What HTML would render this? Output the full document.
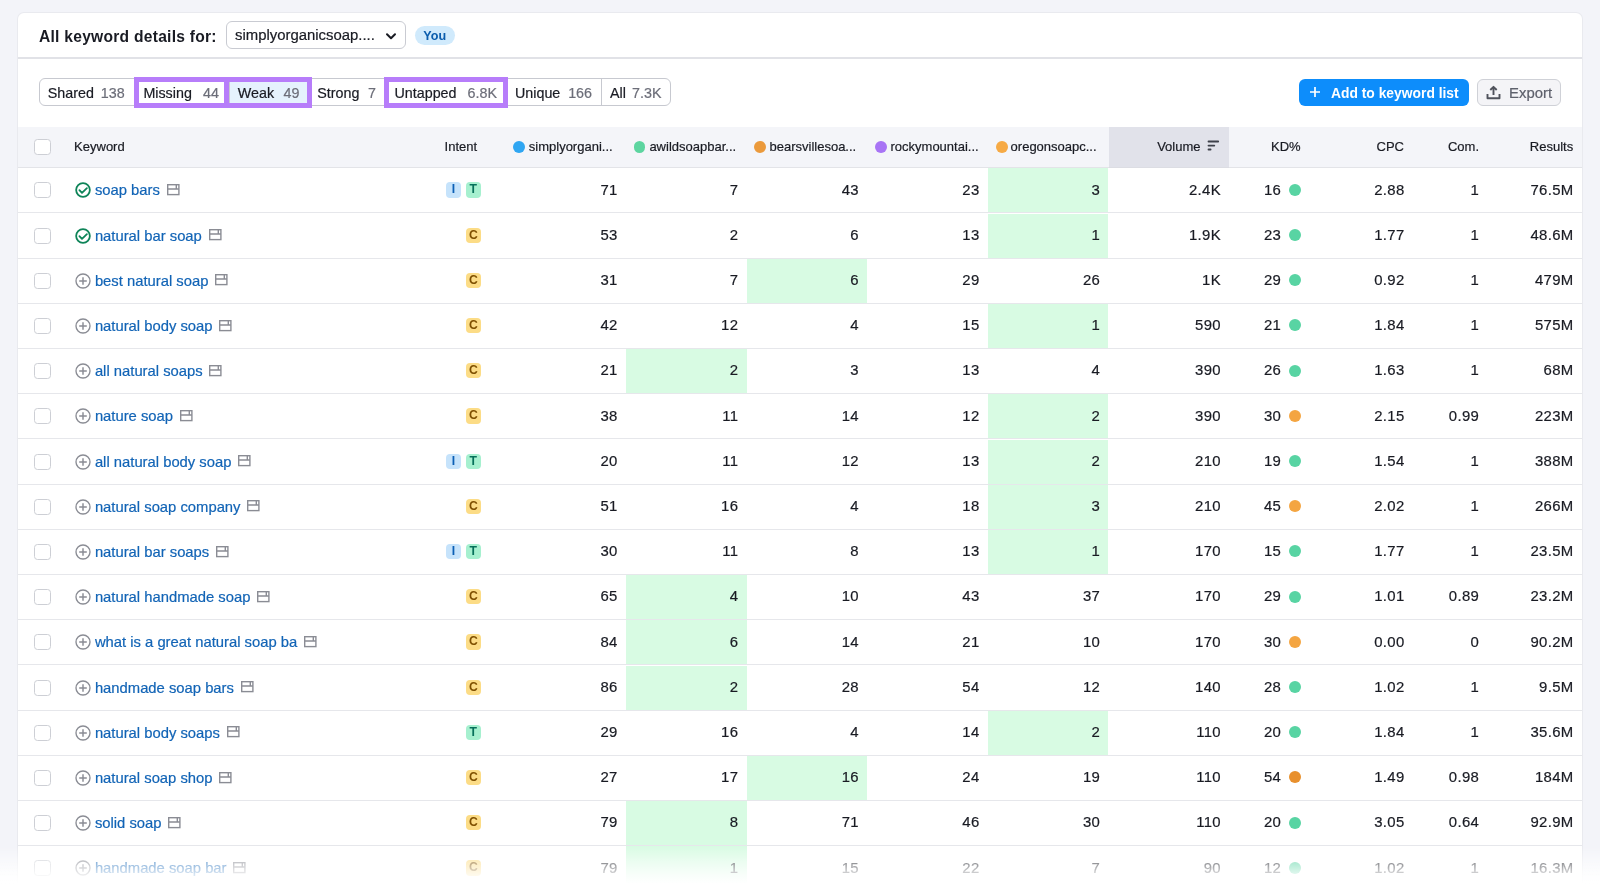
<!DOCTYPE html>
<html><head><meta charset="utf-8">
<style>
*{box-sizing:border-box;margin:0;padding:0}
html,body{width:1600px;height:884px;overflow:hidden}
body{position:relative;background:#f3f4f9;font-family:"Liberation Sans",sans-serif;color:#191b23}
.abs{position:absolute}
.card{position:absolute;left:18px;top:13px;width:1564px;height:900px;background:#fff;border-radius:6px;box-shadow:0 0 0 1px #e9eaef}
.title{position:absolute;left:39px;top:27px;font-size:15.6px;font-weight:700;line-height:20px;white-space:nowrap;letter-spacing:0.26px}
.dd{position:absolute;left:226px;top:21.4px;width:180px;height:27.5px;border:1px solid #c9cbd2;border-radius:6px}
.ddt{position:absolute;left:235px;top:26px;font-size:14.9px;line-height:18px;white-space:nowrap;color:#191b23}
.you{position:absolute;left:415px;top:25.8px;width:39.5px;height:19.5px;border-radius:10px;background:#d0eafc;color:#0b5dad;font-size:12.6px;font-weight:700;line-height:20px;text-align:center}
.sep{position:absolute;left:18px;top:57px;width:1564px;height:1.6px;background:#e1e2e7}
.tabs{position:absolute;left:39px;top:78.4px;width:632px;height:27.8px;border:1px solid #c7c9d0;border-radius:6px;overflow:hidden}
.tsel{position:absolute;left:229px;top:79px;width:80px;height:27px;background:#e5f2fd}
.tdiv{position:absolute;top:79px;width:1px;height:27px;background:#c7c9d0}
.tl{position:absolute;top:83.5px;font-size:14.3px;line-height:18px;white-space:nowrap;color:#191b23}
.tc{position:absolute;top:83.5px;font-size:14.3px;line-height:18px;white-space:nowrap;color:#6c6e79}
.pbox{position:absolute;top:77px;height:30.5px;border:5px solid #b77dfa}
.btn{position:absolute;left:1299px;top:78.8px;width:169.6px;height:27.5px;border-radius:6px;background:#0d8dfb}
.btnt{position:absolute;left:1331px;top:83.5px;font-size:13.85px;font-weight:700;line-height:18px;color:#fff;white-space:nowrap}
.exp{position:absolute;left:1477px;top:78.8px;width:84px;height:27.5px;border-radius:6px;background:#f4f4f7;border:1px solid #cfd1d7}
.expt{position:absolute;left:1509px;top:83.5px;font-size:14.9px;line-height:18px;color:#5e616c;white-space:nowrap}
.th{position:absolute;left:18px;top:126.5px;width:1564px;height:41.8px;background:#f4f5f9;border-bottom:1px solid #e3e4e8}
.thvol{position:absolute;left:1108.5px;top:126.5px;width:120px;height:41.8px;background:#e1e2ea;border-bottom:1px solid #dcdde3}
.hl_{position:absolute;top:137.8px;font-size:13px;line-height:17px;white-space:nowrap;color:#191b23}
.hr_{position:absolute;top:137.8px;font-size:13px;line-height:17px;white-space:nowrap;color:#191b23;text-align:right}
.hdot{position:absolute;top:141.1px;width:11.8px;height:11.8px;border-radius:50%}
.hcb{position:absolute;left:34.4px;top:139.2px;width:16.4px;height:16px;border:1px solid #cdcfd5;border-radius:3.5px;background:#fff}
.row{position:absolute;left:18px;width:1564px;height:45.2px;border-bottom:1px solid #e6e7eb}
.hl{position:absolute;top:0;height:44.2px;background:#d8fbe3}
.cb{position:absolute;left:16.4px;top:14px;width:16.4px;height:16px;border:1px solid #cdcfd5;border-radius:3.5px;background:#fff}
.kw{position:absolute;left:56.9px;top:12px;height:20px;white-space:nowrap;display:flex;align-items:center}
.kw .ic{flex:none}
.kwt{font-size:14.8px;color:#1264b6;margin-left:4px;line-height:20px}
.kw .sp{margin-left:6.8px;margin-top:-0.4px}
.intent{position:absolute;right:1101px;top:14px;display:flex;gap:4.6px}
.bd{display:block;width:15.4px;height:15.4px;border-radius:4px;font-size:12.2px;font-weight:700;line-height:15.6px;text-align:center}
.bI{background:#c6e3fb;color:#0b5fb5}
.bT{background:#a6f0cf;color:#06705a}
.bC{background:#fcdc86;color:#7e4f00}
.num{position:absolute;top:11.3px;font-size:14.9px;letter-spacing:0.35px;margin-right:-0.35px;line-height:20px;white-space:nowrap;color:#191b23;text-align:right}
.dot{position:absolute;left:1271.3px;top:15.6px;width:11.9px;height:11.9px;border-radius:50%}
.dg{background:#58d4a3}
.do{background:#f4a541}
.do2{background:#e8902d}
.fade{position:absolute;left:0;top:846px;width:1600px;height:38px;background:linear-gradient(to bottom,rgba(255,255,255,0) 0%,rgba(255,255,255,0.5) 42%,rgba(255,255,255,0.82) 74%,rgba(255,255,255,1) 100%)}
.wrap{position:absolute;left:0;top:0;width:1600px;height:884px;will-change:transform}
.kwt,.num,.tl,.tc,.hl_,.hr_,.ddt,.expt{-webkit-text-stroke:0.2px currentColor}
</style></head><body><div class="wrap">
<div class="card"></div>
<div class="title">All keyword details for:</div>
<div class="dd"></div>
<div class="ddt">simplyorganicsoap....</div>
<svg class="abs" style="left:384.7px;top:32.2px" width="12" height="9" viewBox="0 0 12 9"><path d="M2 2.2 L6 6.2 L10 2.2" fill="none" stroke="#191b23" stroke-width="2" stroke-linecap="round" stroke-linejoin="round"/></svg>
<div class="you">You</div>
<div class="sep"></div>

<div class="tabs"></div>
<div class="tsel"></div>
<div class="tdiv" style="left:134px"></div>
<div class="tdiv" style="left:229px"></div>
<div class="tdiv" style="left:308.4px"></div>
<div class="tdiv" style="left:385.5px"></div>
<div class="tdiv" style="left:506px"></div>
<div class="tdiv" style="left:601px"></div>
<div class="tl" style="left:47.8px">Shared</div><div class="tc" style="right:1475.3px">138</div>
<div class="tl" style="left:143.4px">Missing</div><div class="tc" style="right:1381px">44</div>
<div class="tl" style="left:237.8px">Weak</div><div class="tc" style="right:1300.6px">49</div>
<div class="tl" style="left:317.3px">Strong</div><div class="tc" style="right:1224px">7</div>
<div class="tl" style="left:394.5px">Untapped</div><div class="tc" style="right:1103px">6.8K</div>
<div class="tl" style="left:515px">Unique</div><div class="tc" style="right:1008px">166</div>
<div class="tl" style="left:610px">All</div><div class="tc" style="right:938.5px">7.3K</div>
<div class="pbox" style="left:134px;width:178px"></div>
<div class="abs" style="left:224px;top:77px;width:4.8px;height:30.5px;background:#b77dfa"></div>
<div class="pbox" style="left:383.8px;width:124.5px"></div>

<div class="btn"></div>
<svg class="abs" style="left:1309px;top:86px" width="12" height="12" viewBox="0 0 12 12"><path d="M6 1 V11 M1 6 H11" stroke="#fff" stroke-width="1.7" fill="none"/></svg>
<div class="btnt">Add to keyword list</div>
<div class="exp"></div>
<svg class="abs" style="left:1485.5px;top:85px" width="15" height="15" viewBox="0 0 15 15"><path d="M7.5 10 V2 M4.3 5 L7.5 1.8 L10.7 5 M1.5 9 V13.2 H13.5 V9" fill="none" stroke="#50535c" stroke-width="1.9" stroke-linejoin="round"/></svg>
<div class="expt">Export</div>

<div class="th"></div>
<div class="thvol"></div>
<div class="hcb"></div>
<div class="hl_" style="left:74.1px">Keyword</div>
<div class="hl_" style="left:444.6px">Intent</div>
<div class="hdot" style="left:513.4px;background:#2fa6f2"></div><div class="hl_" style="left:528.8px">simplyorgani...</div>
<div class="hdot" style="left:633.7px;background:#5dd5a0"></div><div class="hl_" style="left:649.4px">awildsoapbar...</div>
<div class="hdot" style="left:753.9px;background:#eb9a3c"></div><div class="hl_" style="left:769.5px">bearsvillesoa...</div>
<div class="hdot" style="left:875.2px;background:#a874f5"></div><div class="hl_" style="left:890.5px">rockymountai...</div>
<div class="hdot" style="left:996px;background:#f6aa45"></div><div class="hl_" style="left:1010.6px">oregonsoapc...</div>
<div class="hr_" style="right:399.5px">Volume</div>
<svg class="abs" style="left:1206.5px;top:140px" width="13" height="12" viewBox="0 0 13 12"><path d="M1.5 1.5 H11.2 M1.5 5.6 H7.3 M1.5 9.5 H3.6" stroke="#3e414a" stroke-width="1.8" stroke-linecap="round" fill="none"/></svg>
<div class="hr_" style="right:299.4px">KD%</div>
<div class="hr_" style="right:196px">CPC</div>
<div class="hr_" style="right:121px">Com.</div>
<div class="hr_" style="right:26.8px">Results</div>

<div class="row" style="top:168.30px"><div class="hl" style="left:969.8px;width:120.6px"></div><div class="cb"></div><div class="kw"><svg class="ic" width="16" height="16" viewBox="0 0 16 16"><circle cx="8" cy="8" r="6.85" fill="none" stroke="#0e8458" stroke-width="1.8"/><path d="M4.4 8.1 L7.0 10.9 L11.9 6.2" fill="none" stroke="#0e8458" stroke-width="1.8" stroke-linecap="round" stroke-linejoin="round"/></svg><span class="kwt">soap bars</span><svg class="sp" width="13" height="12" viewBox="0 0 13 12"><rect x="0.7" y="0.7" width="11.2" height="9.9" fill="none" stroke="#8a8c94" stroke-width="1.4"/><path d="M0.7 5 H11.9 M9.3 0.7 V5" fill="none" stroke="#8a8c94" stroke-width="1.4"/></svg></div><div class="intent"><span class="bd bI">I</span><span class="bd bT">T</span></div><div class="num" style="right:964.6px">71</div><div class="num" style="right:844.0px">7</div><div class="num" style="right:723.4px">43</div><div class="num" style="right:602.8px">23</div><div class="num" style="right:482.2px">3</div><div class="num" style="right:361.4px">2.4K</div><div class="num" style="right:301.2px">16</div><span class="dot dg"></span><div class="num" style="right:177.8px">2.88</div><div class="num" style="right:103.2px">1</div><div class="num" style="right:8.8px">76.5M</div></div>
<div class="row" style="top:213.50px"><div class="hl" style="left:969.8px;width:120.6px"></div><div class="cb"></div><div class="kw"><svg class="ic" width="16" height="16" viewBox="0 0 16 16"><circle cx="8" cy="8" r="6.85" fill="none" stroke="#0e8458" stroke-width="1.8"/><path d="M4.4 8.1 L7.0 10.9 L11.9 6.2" fill="none" stroke="#0e8458" stroke-width="1.8" stroke-linecap="round" stroke-linejoin="round"/></svg><span class="kwt">natural bar soap</span><svg class="sp" width="13" height="12" viewBox="0 0 13 12"><rect x="0.7" y="0.7" width="11.2" height="9.9" fill="none" stroke="#8a8c94" stroke-width="1.4"/><path d="M0.7 5 H11.9 M9.3 0.7 V5" fill="none" stroke="#8a8c94" stroke-width="1.4"/></svg></div><div class="intent"><span class="bd bC">C</span></div><div class="num" style="right:964.6px">53</div><div class="num" style="right:844.0px">2</div><div class="num" style="right:723.4px">6</div><div class="num" style="right:602.8px">13</div><div class="num" style="right:482.2px">1</div><div class="num" style="right:361.4px">1.9K</div><div class="num" style="right:301.2px">23</div><span class="dot dg"></span><div class="num" style="right:177.8px">1.77</div><div class="num" style="right:103.2px">1</div><div class="num" style="right:8.8px">48.6M</div></div>
<div class="row" style="top:258.70px"><div class="hl" style="left:728.6px;width:120.6px"></div><div class="cb"></div><div class="kw"><svg class="ic" width="16" height="16" viewBox="0 0 16 16"><circle cx="8" cy="8" r="7.0" fill="none" stroke="#8a8c94" stroke-width="1.35"/><path d="M8 4.2 V11.8 M4.2 8 H11.8" fill="none" stroke="#8a8c94" stroke-width="1.45"/></svg><span class="kwt">best natural soap</span><svg class="sp" width="13" height="12" viewBox="0 0 13 12"><rect x="0.7" y="0.7" width="11.2" height="9.9" fill="none" stroke="#8a8c94" stroke-width="1.4"/><path d="M0.7 5 H11.9 M9.3 0.7 V5" fill="none" stroke="#8a8c94" stroke-width="1.4"/></svg></div><div class="intent"><span class="bd bC">C</span></div><div class="num" style="right:964.6px">31</div><div class="num" style="right:844.0px">7</div><div class="num" style="right:723.4px">6</div><div class="num" style="right:602.8px">29</div><div class="num" style="right:482.2px">26</div><div class="num" style="right:361.4px">1K</div><div class="num" style="right:301.2px">29</div><span class="dot dg"></span><div class="num" style="right:177.8px">0.92</div><div class="num" style="right:103.2px">1</div><div class="num" style="right:8.8px">479M</div></div>
<div class="row" style="top:303.90px"><div class="hl" style="left:969.8px;width:120.6px"></div><div class="cb"></div><div class="kw"><svg class="ic" width="16" height="16" viewBox="0 0 16 16"><circle cx="8" cy="8" r="7.0" fill="none" stroke="#8a8c94" stroke-width="1.35"/><path d="M8 4.2 V11.8 M4.2 8 H11.8" fill="none" stroke="#8a8c94" stroke-width="1.45"/></svg><span class="kwt">natural body soap</span><svg class="sp" width="13" height="12" viewBox="0 0 13 12"><rect x="0.7" y="0.7" width="11.2" height="9.9" fill="none" stroke="#8a8c94" stroke-width="1.4"/><path d="M0.7 5 H11.9 M9.3 0.7 V5" fill="none" stroke="#8a8c94" stroke-width="1.4"/></svg></div><div class="intent"><span class="bd bC">C</span></div><div class="num" style="right:964.6px">42</div><div class="num" style="right:844.0px">12</div><div class="num" style="right:723.4px">4</div><div class="num" style="right:602.8px">15</div><div class="num" style="right:482.2px">1</div><div class="num" style="right:361.4px">590</div><div class="num" style="right:301.2px">21</div><span class="dot dg"></span><div class="num" style="right:177.8px">1.84</div><div class="num" style="right:103.2px">1</div><div class="num" style="right:8.8px">575M</div></div>
<div class="row" style="top:349.10px"><div class="hl" style="left:608.0px;width:120.6px"></div><div class="cb"></div><div class="kw"><svg class="ic" width="16" height="16" viewBox="0 0 16 16"><circle cx="8" cy="8" r="7.0" fill="none" stroke="#8a8c94" stroke-width="1.35"/><path d="M8 4.2 V11.8 M4.2 8 H11.8" fill="none" stroke="#8a8c94" stroke-width="1.45"/></svg><span class="kwt">all natural soaps</span><svg class="sp" width="13" height="12" viewBox="0 0 13 12"><rect x="0.7" y="0.7" width="11.2" height="9.9" fill="none" stroke="#8a8c94" stroke-width="1.4"/><path d="M0.7 5 H11.9 M9.3 0.7 V5" fill="none" stroke="#8a8c94" stroke-width="1.4"/></svg></div><div class="intent"><span class="bd bC">C</span></div><div class="num" style="right:964.6px">21</div><div class="num" style="right:844.0px">2</div><div class="num" style="right:723.4px">3</div><div class="num" style="right:602.8px">13</div><div class="num" style="right:482.2px">4</div><div class="num" style="right:361.4px">390</div><div class="num" style="right:301.2px">26</div><span class="dot dg"></span><div class="num" style="right:177.8px">1.63</div><div class="num" style="right:103.2px">1</div><div class="num" style="right:8.8px">68M</div></div>
<div class="row" style="top:394.30px"><div class="hl" style="left:969.8px;width:120.6px"></div><div class="cb"></div><div class="kw"><svg class="ic" width="16" height="16" viewBox="0 0 16 16"><circle cx="8" cy="8" r="7.0" fill="none" stroke="#8a8c94" stroke-width="1.35"/><path d="M8 4.2 V11.8 M4.2 8 H11.8" fill="none" stroke="#8a8c94" stroke-width="1.45"/></svg><span class="kwt">nature soap</span><svg class="sp" width="13" height="12" viewBox="0 0 13 12"><rect x="0.7" y="0.7" width="11.2" height="9.9" fill="none" stroke="#8a8c94" stroke-width="1.4"/><path d="M0.7 5 H11.9 M9.3 0.7 V5" fill="none" stroke="#8a8c94" stroke-width="1.4"/></svg></div><div class="intent"><span class="bd bC">C</span></div><div class="num" style="right:964.6px">38</div><div class="num" style="right:844.0px">11</div><div class="num" style="right:723.4px">14</div><div class="num" style="right:602.8px">12</div><div class="num" style="right:482.2px">2</div><div class="num" style="right:361.4px">390</div><div class="num" style="right:301.2px">30</div><span class="dot do"></span><div class="num" style="right:177.8px">2.15</div><div class="num" style="right:103.2px">0.99</div><div class="num" style="right:8.8px">223M</div></div>
<div class="row" style="top:439.50px"><div class="hl" style="left:969.8px;width:120.6px"></div><div class="cb"></div><div class="kw"><svg class="ic" width="16" height="16" viewBox="0 0 16 16"><circle cx="8" cy="8" r="7.0" fill="none" stroke="#8a8c94" stroke-width="1.35"/><path d="M8 4.2 V11.8 M4.2 8 H11.8" fill="none" stroke="#8a8c94" stroke-width="1.45"/></svg><span class="kwt">all natural body soap</span><svg class="sp" width="13" height="12" viewBox="0 0 13 12"><rect x="0.7" y="0.7" width="11.2" height="9.9" fill="none" stroke="#8a8c94" stroke-width="1.4"/><path d="M0.7 5 H11.9 M9.3 0.7 V5" fill="none" stroke="#8a8c94" stroke-width="1.4"/></svg></div><div class="intent"><span class="bd bI">I</span><span class="bd bT">T</span></div><div class="num" style="right:964.6px">20</div><div class="num" style="right:844.0px">11</div><div class="num" style="right:723.4px">12</div><div class="num" style="right:602.8px">13</div><div class="num" style="right:482.2px">2</div><div class="num" style="right:361.4px">210</div><div class="num" style="right:301.2px">19</div><span class="dot dg"></span><div class="num" style="right:177.8px">1.54</div><div class="num" style="right:103.2px">1</div><div class="num" style="right:8.8px">388M</div></div>
<div class="row" style="top:484.70px"><div class="hl" style="left:969.8px;width:120.6px"></div><div class="cb"></div><div class="kw"><svg class="ic" width="16" height="16" viewBox="0 0 16 16"><circle cx="8" cy="8" r="7.0" fill="none" stroke="#8a8c94" stroke-width="1.35"/><path d="M8 4.2 V11.8 M4.2 8 H11.8" fill="none" stroke="#8a8c94" stroke-width="1.45"/></svg><span class="kwt">natural soap company</span><svg class="sp" width="13" height="12" viewBox="0 0 13 12"><rect x="0.7" y="0.7" width="11.2" height="9.9" fill="none" stroke="#8a8c94" stroke-width="1.4"/><path d="M0.7 5 H11.9 M9.3 0.7 V5" fill="none" stroke="#8a8c94" stroke-width="1.4"/></svg></div><div class="intent"><span class="bd bC">C</span></div><div class="num" style="right:964.6px">51</div><div class="num" style="right:844.0px">16</div><div class="num" style="right:723.4px">4</div><div class="num" style="right:602.8px">18</div><div class="num" style="right:482.2px">3</div><div class="num" style="right:361.4px">210</div><div class="num" style="right:301.2px">45</div><span class="dot do"></span><div class="num" style="right:177.8px">2.02</div><div class="num" style="right:103.2px">1</div><div class="num" style="right:8.8px">266M</div></div>
<div class="row" style="top:529.90px"><div class="hl" style="left:969.8px;width:120.6px"></div><div class="cb"></div><div class="kw"><svg class="ic" width="16" height="16" viewBox="0 0 16 16"><circle cx="8" cy="8" r="7.0" fill="none" stroke="#8a8c94" stroke-width="1.35"/><path d="M8 4.2 V11.8 M4.2 8 H11.8" fill="none" stroke="#8a8c94" stroke-width="1.45"/></svg><span class="kwt">natural bar soaps</span><svg class="sp" width="13" height="12" viewBox="0 0 13 12"><rect x="0.7" y="0.7" width="11.2" height="9.9" fill="none" stroke="#8a8c94" stroke-width="1.4"/><path d="M0.7 5 H11.9 M9.3 0.7 V5" fill="none" stroke="#8a8c94" stroke-width="1.4"/></svg></div><div class="intent"><span class="bd bI">I</span><span class="bd bT">T</span></div><div class="num" style="right:964.6px">30</div><div class="num" style="right:844.0px">11</div><div class="num" style="right:723.4px">8</div><div class="num" style="right:602.8px">13</div><div class="num" style="right:482.2px">1</div><div class="num" style="right:361.4px">170</div><div class="num" style="right:301.2px">15</div><span class="dot dg"></span><div class="num" style="right:177.8px">1.77</div><div class="num" style="right:103.2px">1</div><div class="num" style="right:8.8px">23.5M</div></div>
<div class="row" style="top:575.10px"><div class="hl" style="left:608.0px;width:120.6px"></div><div class="cb"></div><div class="kw"><svg class="ic" width="16" height="16" viewBox="0 0 16 16"><circle cx="8" cy="8" r="7.0" fill="none" stroke="#8a8c94" stroke-width="1.35"/><path d="M8 4.2 V11.8 M4.2 8 H11.8" fill="none" stroke="#8a8c94" stroke-width="1.45"/></svg><span class="kwt">natural handmade soap</span><svg class="sp" width="13" height="12" viewBox="0 0 13 12"><rect x="0.7" y="0.7" width="11.2" height="9.9" fill="none" stroke="#8a8c94" stroke-width="1.4"/><path d="M0.7 5 H11.9 M9.3 0.7 V5" fill="none" stroke="#8a8c94" stroke-width="1.4"/></svg></div><div class="intent"><span class="bd bC">C</span></div><div class="num" style="right:964.6px">65</div><div class="num" style="right:844.0px">4</div><div class="num" style="right:723.4px">10</div><div class="num" style="right:602.8px">43</div><div class="num" style="right:482.2px">37</div><div class="num" style="right:361.4px">170</div><div class="num" style="right:301.2px">29</div><span class="dot dg"></span><div class="num" style="right:177.8px">1.01</div><div class="num" style="right:103.2px">0.89</div><div class="num" style="right:8.8px">23.2M</div></div>
<div class="row" style="top:620.30px"><div class="hl" style="left:608.0px;width:120.6px"></div><div class="cb"></div><div class="kw"><svg class="ic" width="16" height="16" viewBox="0 0 16 16"><circle cx="8" cy="8" r="7.0" fill="none" stroke="#8a8c94" stroke-width="1.35"/><path d="M8 4.2 V11.8 M4.2 8 H11.8" fill="none" stroke="#8a8c94" stroke-width="1.45"/></svg><span class="kwt">what is a great natural soap ba</span><svg class="sp" width="13" height="12" viewBox="0 0 13 12"><rect x="0.7" y="0.7" width="11.2" height="9.9" fill="none" stroke="#8a8c94" stroke-width="1.4"/><path d="M0.7 5 H11.9 M9.3 0.7 V5" fill="none" stroke="#8a8c94" stroke-width="1.4"/></svg></div><div class="intent"><span class="bd bC">C</span></div><div class="num" style="right:964.6px">84</div><div class="num" style="right:844.0px">6</div><div class="num" style="right:723.4px">14</div><div class="num" style="right:602.8px">21</div><div class="num" style="right:482.2px">10</div><div class="num" style="right:361.4px">170</div><div class="num" style="right:301.2px">30</div><span class="dot do"></span><div class="num" style="right:177.8px">0.00</div><div class="num" style="right:103.2px">0</div><div class="num" style="right:8.8px">90.2M</div></div>
<div class="row" style="top:665.50px"><div class="hl" style="left:608.0px;width:120.6px"></div><div class="cb"></div><div class="kw"><svg class="ic" width="16" height="16" viewBox="0 0 16 16"><circle cx="8" cy="8" r="7.0" fill="none" stroke="#8a8c94" stroke-width="1.35"/><path d="M8 4.2 V11.8 M4.2 8 H11.8" fill="none" stroke="#8a8c94" stroke-width="1.45"/></svg><span class="kwt">handmade soap bars</span><svg class="sp" width="13" height="12" viewBox="0 0 13 12"><rect x="0.7" y="0.7" width="11.2" height="9.9" fill="none" stroke="#8a8c94" stroke-width="1.4"/><path d="M0.7 5 H11.9 M9.3 0.7 V5" fill="none" stroke="#8a8c94" stroke-width="1.4"/></svg></div><div class="intent"><span class="bd bC">C</span></div><div class="num" style="right:964.6px">86</div><div class="num" style="right:844.0px">2</div><div class="num" style="right:723.4px">28</div><div class="num" style="right:602.8px">54</div><div class="num" style="right:482.2px">12</div><div class="num" style="right:361.4px">140</div><div class="num" style="right:301.2px">28</div><span class="dot dg"></span><div class="num" style="right:177.8px">1.02</div><div class="num" style="right:103.2px">1</div><div class="num" style="right:8.8px">9.5M</div></div>
<div class="row" style="top:710.70px"><div class="hl" style="left:969.8px;width:120.6px"></div><div class="cb"></div><div class="kw"><svg class="ic" width="16" height="16" viewBox="0 0 16 16"><circle cx="8" cy="8" r="7.0" fill="none" stroke="#8a8c94" stroke-width="1.35"/><path d="M8 4.2 V11.8 M4.2 8 H11.8" fill="none" stroke="#8a8c94" stroke-width="1.45"/></svg><span class="kwt">natural body soaps</span><svg class="sp" width="13" height="12" viewBox="0 0 13 12"><rect x="0.7" y="0.7" width="11.2" height="9.9" fill="none" stroke="#8a8c94" stroke-width="1.4"/><path d="M0.7 5 H11.9 M9.3 0.7 V5" fill="none" stroke="#8a8c94" stroke-width="1.4"/></svg></div><div class="intent"><span class="bd bT">T</span></div><div class="num" style="right:964.6px">29</div><div class="num" style="right:844.0px">16</div><div class="num" style="right:723.4px">4</div><div class="num" style="right:602.8px">14</div><div class="num" style="right:482.2px">2</div><div class="num" style="right:361.4px">110</div><div class="num" style="right:301.2px">20</div><span class="dot dg"></span><div class="num" style="right:177.8px">1.84</div><div class="num" style="right:103.2px">1</div><div class="num" style="right:8.8px">35.6M</div></div>
<div class="row" style="top:755.90px"><div class="hl" style="left:728.6px;width:120.6px"></div><div class="cb"></div><div class="kw"><svg class="ic" width="16" height="16" viewBox="0 0 16 16"><circle cx="8" cy="8" r="7.0" fill="none" stroke="#8a8c94" stroke-width="1.35"/><path d="M8 4.2 V11.8 M4.2 8 H11.8" fill="none" stroke="#8a8c94" stroke-width="1.45"/></svg><span class="kwt">natural soap shop</span><svg class="sp" width="13" height="12" viewBox="0 0 13 12"><rect x="0.7" y="0.7" width="11.2" height="9.9" fill="none" stroke="#8a8c94" stroke-width="1.4"/><path d="M0.7 5 H11.9 M9.3 0.7 V5" fill="none" stroke="#8a8c94" stroke-width="1.4"/></svg></div><div class="intent"><span class="bd bC">C</span></div><div class="num" style="right:964.6px">27</div><div class="num" style="right:844.0px">17</div><div class="num" style="right:723.4px">16</div><div class="num" style="right:602.8px">24</div><div class="num" style="right:482.2px">19</div><div class="num" style="right:361.4px">110</div><div class="num" style="right:301.2px">54</div><span class="dot do2"></span><div class="num" style="right:177.8px">1.49</div><div class="num" style="right:103.2px">0.98</div><div class="num" style="right:8.8px">184M</div></div>
<div class="row" style="top:801.10px"><div class="hl" style="left:608.0px;width:120.6px"></div><div class="cb"></div><div class="kw"><svg class="ic" width="16" height="16" viewBox="0 0 16 16"><circle cx="8" cy="8" r="7.0" fill="none" stroke="#8a8c94" stroke-width="1.35"/><path d="M8 4.2 V11.8 M4.2 8 H11.8" fill="none" stroke="#8a8c94" stroke-width="1.45"/></svg><span class="kwt">solid soap</span><svg class="sp" width="13" height="12" viewBox="0 0 13 12"><rect x="0.7" y="0.7" width="11.2" height="9.9" fill="none" stroke="#8a8c94" stroke-width="1.4"/><path d="M0.7 5 H11.9 M9.3 0.7 V5" fill="none" stroke="#8a8c94" stroke-width="1.4"/></svg></div><div class="intent"><span class="bd bC">C</span></div><div class="num" style="right:964.6px">79</div><div class="num" style="right:844.0px">8</div><div class="num" style="right:723.4px">71</div><div class="num" style="right:602.8px">46</div><div class="num" style="right:482.2px">30</div><div class="num" style="right:361.4px">110</div><div class="num" style="right:301.2px">20</div><span class="dot dg"></span><div class="num" style="right:177.8px">3.05</div><div class="num" style="right:103.2px">0.64</div><div class="num" style="right:8.8px">92.9M</div></div>
<div class="row" style="top:846.30px"><div class="hl" style="left:608.0px;width:120.6px"></div><div class="cb"></div><div class="kw"><svg class="ic" width="16" height="16" viewBox="0 0 16 16"><circle cx="8" cy="8" r="7.0" fill="none" stroke="#8a8c94" stroke-width="1.35"/><path d="M8 4.2 V11.8 M4.2 8 H11.8" fill="none" stroke="#8a8c94" stroke-width="1.45"/></svg><span class="kwt">handmade soap bar</span><svg class="sp" width="13" height="12" viewBox="0 0 13 12"><rect x="0.7" y="0.7" width="11.2" height="9.9" fill="none" stroke="#8a8c94" stroke-width="1.4"/><path d="M0.7 5 H11.9 M9.3 0.7 V5" fill="none" stroke="#8a8c94" stroke-width="1.4"/></svg></div><div class="intent"><span class="bd bC">C</span></div><div class="num" style="right:964.6px">79</div><div class="num" style="right:844.0px">1</div><div class="num" style="right:723.4px">15</div><div class="num" style="right:602.8px">22</div><div class="num" style="right:482.2px">7</div><div class="num" style="right:361.4px">90</div><div class="num" style="right:301.2px">12</div><span class="dot dg"></span><div class="num" style="right:177.8px">1.02</div><div class="num" style="right:103.2px">1</div><div class="num" style="right:8.8px">16.3M</div></div>

<div class="fade"></div>
</div></body></html>
